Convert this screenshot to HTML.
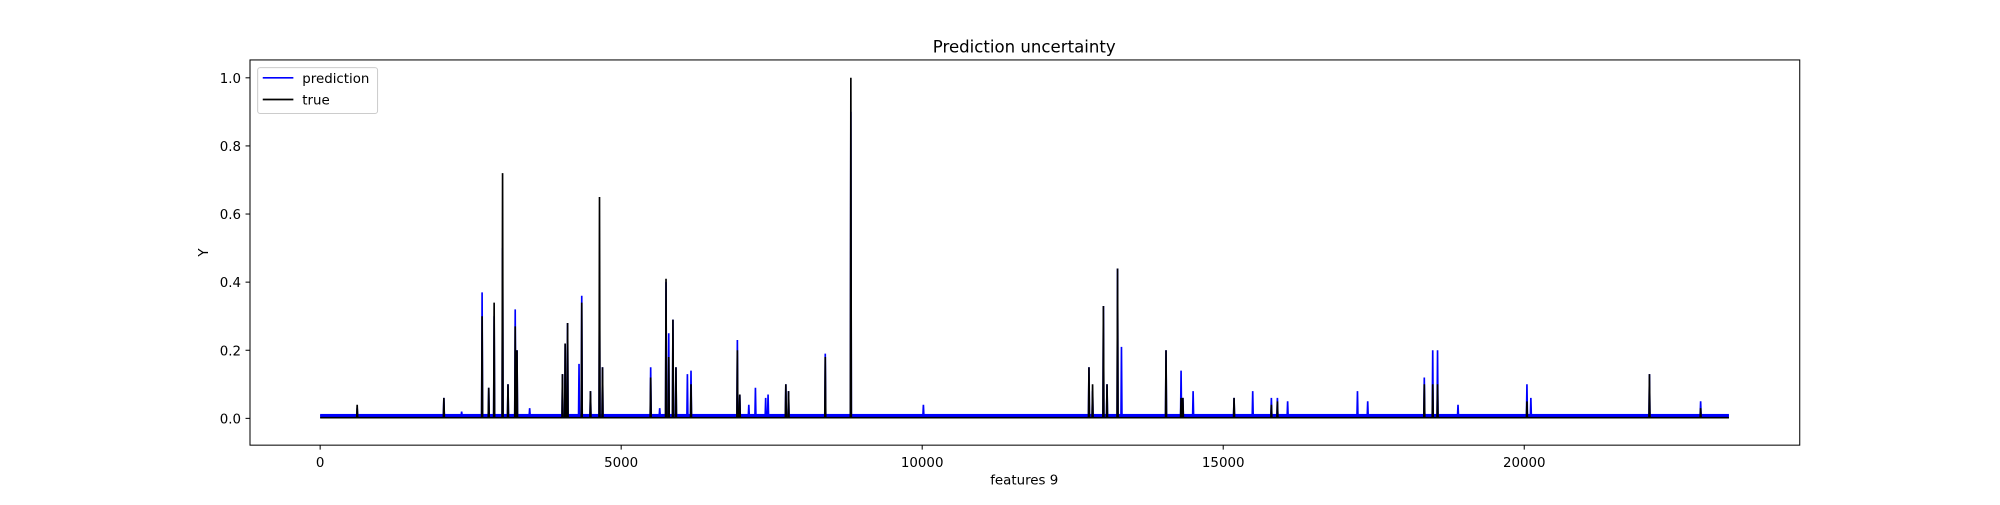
<!DOCTYPE html>
<html><head><meta charset="utf-8"><style>
body{margin:0;background:#fff;}
svg text{font-family:"DejaVu Sans","Liberation Sans",sans-serif;fill:#000;}
</style></head><body>
<svg id="chart" width="2000" height="500" viewBox="0 0 1568 392" preserveAspectRatio="none">
<rect width="1568" height="392" fill="#fff"/>
<text x="803" y="41" font-size="13" text-anchor="middle">Prediction uncertainty</text>
<g id="plot"></g>
<rect x="196" y="47" width="1215" height="302" fill="none" stroke="#000" stroke-width="0.8"/>
<text x="803" y="380" font-size="10.5" text-anchor="middle">features 9</text>
<text x="163" y="198" font-size="10.5" text-anchor="middle" transform="rotate(-90 163 198)">Y</text>
<g>
<rect x="202" y="53" width="94" height="36" rx="2" fill="#fff" stroke="#ccc" stroke-width="0.8"/>
<line x1="206" y1="61" x2="230" y2="61" stroke="#0000ff" stroke-width="1.3"/>
<text x="237" y="65" font-size="10.5">prediction</text>
<line x1="206" y1="78" x2="230" y2="78" stroke="#000" stroke-width="1.3"/>
<text x="237" y="82" font-size="10.5">true</text>
</g>
</svg>
<script>
const xTicks=[0,5000,10000,15000,20000];
const yTicks=[0.0,0.2,0.4,0.6,0.8,1.0];
const xMax=23400;
const predBaseline=0.008;
const trueBaseline=0.002;
const predX=[615,2055,2350,2690,2800,2890,3030,3120,3240,3270,3480,4025,4070,4110,4300,4345,4490,4640,4690,5490,5640,5745,5790,5860,5910,6100,6160,6930,6970,7120,7230,7400,7440,7735,7780,8390,8815,10020,12770,12830,13010,13070,13245,13310,14050,14300,14330,14500,15180,15490,15800,15900,16070,17230,17400,18340,18480,18560,18900,20045,20110,22080,22930];
const predY=[0.03,0.06,0.02,0.37,0.09,0.3,0.5,0.1,0.32,0.2,0.03,0.13,0.22,0.28,0.16,0.36,0.08,0.4,0.15,0.15,0.03,0.4,0.25,0.29,0.15,0.13,0.14,0.23,0.07,0.04,0.09,0.06,0.07,0.1,0.08,0.19,0.9,0.04,0.15,0.08,0.33,0.1,0.44,0.21,0.2,0.14,0.06,0.08,0.06,0.08,0.06,0.06,0.05,0.08,0.05,0.12,0.2,0.2,0.04,0.1,0.06,0.13,0.05];
const trueX=[615,2055,2690,2800,2890,3030,3120,3240,3270,4025,4070,4110,4345,4490,4640,4690,5490,5745,5790,5860,5910,6160,6930,6970,7735,7780,8390,8815,12770,12830,13010,13070,13245,14050,14300,14330,15180,15800,15900,18340,18480,18560,20045,22080,22930];
const trueY=[0.04,0.06,0.3,0.09,0.34,0.72,0.1,0.27,0.2,0.13,0.22,0.28,0.34,0.08,0.65,0.15,0.12,0.41,0.18,0.29,0.15,0.1,0.2,0.07,0.1,0.08,0.18,1.0,0.15,0.1,0.33,0.1,0.44,0.2,0.06,0.06,0.06,0.04,0.05,0.1,0.1,0.1,0.05,0.13,0.03];
const NS="http://www.w3.org/2000/svg";
const sx=v=>251+v*(236/5000);
const sy=v=>328-v*267;
const plot=document.getElementById('plot');
function mk(tag,attrs){const e=document.createElementNS(NS,tag);for(const k in attrs)e.setAttribute(k,attrs[k]);return e;}
xTicks.forEach(t=>{
 const l=mk('line',{x1:sx(t),x2:sx(t),y1:349,y2:352.5,stroke:'#000','stroke-width':0.8});
 
 
 plot.appendChild(l);
 const tx=mk('text',{x:sx(t),y:366,'font-size':10.5,'text-anchor':'middle'});
 
 
 tx.textContent=t;plot.appendChild(tx);
});
yTicks.forEach(t=>{
 const l=mk('line',{x1:192.5,x2:196,y1:sy(t),y2:sy(t),stroke:'#000','stroke-width':0.8});
 
 
 plot.appendChild(l);
 const tx=mk('text',{x:189,y:sy(t)+4,'font-size':10.5,'text-anchor':'end'});
 
 
 tx.textContent=t.toFixed(1);plot.appendChild(tx);
});
const band=mk('rect',{x:sx(0),y:sy(0.013),width:sx(xMax)-sx(0),height:sy(0.001)-sy(0.013),fill:'#0000ff'});


plot.appendChild(band);
function series(xs,ys,base,color,name){
 let d='M'+sx(0)+','+sy(base);
 xs.forEach((x,i)=>{d+=' L'+sx(x-8)+','+sy(base)+' L'+sx(x)+','+sy(ys[i])+' L'+sx(x+8)+','+sy(base);});
 d+=' L'+sx(xMax)+','+sy(base);
 const p=mk('path',{d:d,fill:'none',stroke:color,'stroke-width':1.3});
 
 
 plot.appendChild(p);
}
series(predX,predY,predBaseline,'#0000ff','prediction-line');
series(trueX,trueY,trueBaseline,'#000000','true-line');
</script>
</body></html>
